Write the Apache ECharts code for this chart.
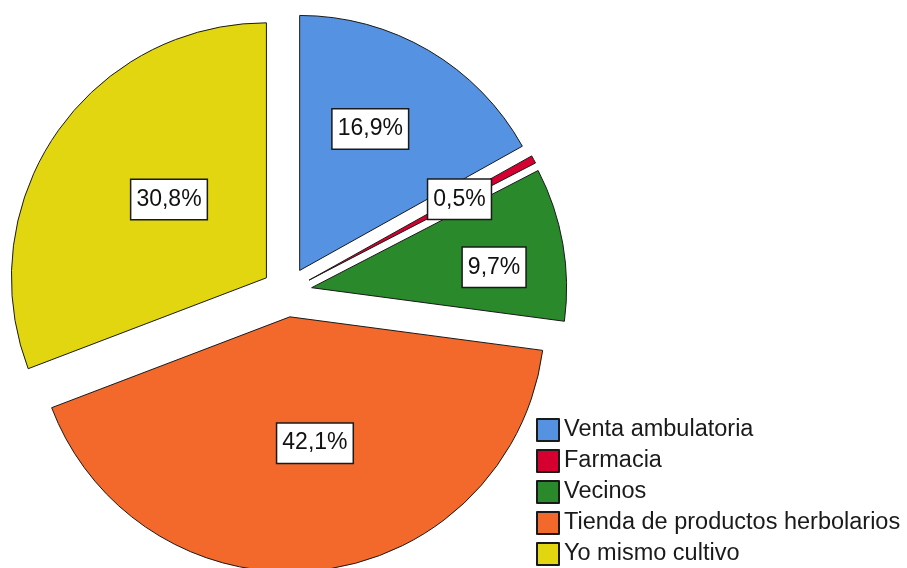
<!DOCTYPE html>
<html>
<head>
<meta charset="utf-8">
<script src="https://cdn.jsdelivr.net/npm/echarts@6/dist/echarts.min.js"></script>
<style>
  html, body { margin: 0; padding: 0; background: #fff; }
  #chart { width: 907px; height: 568px; }
</style>
</head>
<body>
<div id="chart"></div>
<script>
// ---- data ----
const categories = ['Venta ambulatoria', 'Farmacia', 'Vecinos', 'Tienda de productos herbolarios', 'Yo mismo cultivo'];
const percents = [16.9, 0.5, 9.7, 42.1, 30.8];
const colors = ['#5593e2', '#d5002f', '#2a892b', '#f2692b', '#e1d60f'];

// label placement within each slice: fraction of the slice angle, fraction of the radius
const labelAngleFrac = [0.436, 0.5, 0.60, 0.47, 0.538];
const labelRadiusFrac = [0.62, 0.67, 0.72, 0.505, 0.49];

const CX = 287, CY = 292, R = 255, OFFSET = 25;
const total = percents.reduce((a, b) => a + b, 0);

function fmt(v) { return v.toFixed(1).replace('.', ',') + '%'; }

const rad = d => d * Math.PI / 180;
function labelPos(i) {
  let cum = 0;
  for (let k = 0; k < i; k++) cum += percents[k];
  const start = cum / total * 360;
  const end = (cum + percents[i]) / total * 360;
  const mid = (start + end) / 2;
  const la = start + labelAngleFrac[i] * (end - start);
  const lr = labelRadiusFrac[i] * R;
  return {
    x: CX + OFFSET * Math.sin(rad(mid)) + lr * Math.sin(rad(la)),
    y: CY - OFFSET * Math.cos(rad(mid)) - lr * Math.cos(rad(la))
  };
}

const FONT = 'Liberation Sans, Arial, sans-serif';

const chart = echarts.init(document.getElementById('chart'), null, { renderer: 'canvas' });
chart.setOption({
  animation: false,
  backgroundColor: '#ffffff',
  legend: {
    orient: 'vertical',
    left: 536,
    top: 418,
    height: 200,
    padding: 0,
    itemWidth: 22,
    itemHeight: 22,
    itemGap: 7,
    icon: 'rect',
    selectedMode: false,
    data: categories,
    textStyle: {
      fontFamily: FONT,
      fontSize: 23.5,
      color: '#1a1a1a'
    }
  },
  series: [{
    type: 'pie',
    name: 'slices',
    center: [CX, CY],
    radius: [0, R],
    startAngle: 90,
    clockwise: true,
    selectedMode: 'multiple',
    selectedOffset: OFFSET,
    emphasis: { disabled: true, scale: false },
    itemStyle: { borderColor: '#1a1a1a', borderWidth: 1 },
    label: { show: false },
    labelLine: { show: false },
    data: categories.map((name, i) => ({
      name: name,
      value: percents[i],
      selected: true,
      itemStyle: { color: colors[i] },
      select: { itemStyle: { color: colors[i], borderColor: '#1a1a1a', borderWidth: 1 } }
    }))
  }, {
    type: 'pie',
    name: 'labels',
    center: [CX, CY],
    radius: [0, R],
    startAngle: 90,
    clockwise: true,
    silent: true,
    selectedMode: false,
    avoidLabelOverlap: false,
    emphasis: { disabled: true, scale: false },
    itemStyle: { color: 'rgba(0,0,0,0)', borderWidth: 0 },
    label: {
      show: true,
      position: 'inside',
      formatter: p => fmt(p.value),
      fontFamily: FONT,
      fontSize: 23,
      lineHeight: 26,
      color: '#111',
      backgroundColor: '#ffffff',
      borderColor: '#1a1a1a',
      borderWidth: 1.5,
      padding: [7, 5, 6, 5]
    },
    labelLine: { show: false },
    labelLayout: function (params) {
      const p = labelPos(params.dataIndex);
      return { x: p.x, y: p.y, align: 'center', verticalAlign: 'middle' };
    },
    data: categories.map((name, i) => ({ name: name, value: percents[i] }))
  }]
});
</script>
</body>
</html>
